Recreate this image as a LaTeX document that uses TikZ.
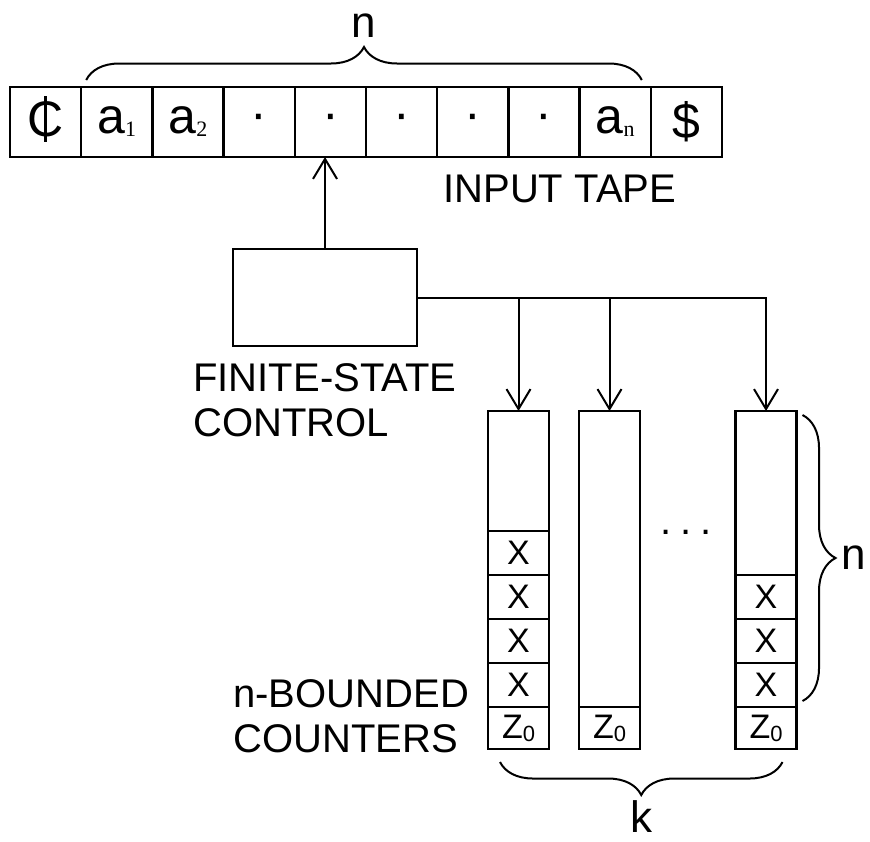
\documentclass[tikz,border=0pt]{standalone}
\usepackage{fontspec}
\setmainfont{Liberation Sans}
\newfontfamily\subfont{Liberation Serif}
\usetikzlibrary{positioning,arrows.meta,decorations.pathreplacing}

\newcommand{\subs}[1]{\raisebox{-1.5pt}{\subfont\fontsize{11}{11}\selectfont #1}}
\newcommand{\zeroidx}{\raisebox{-1.5pt}{\fontsize{11}{11}\selectfont 0}}
\newcommand{\centsign}{\ooalign{C\cr\hidewidth\rule[-0.1em]{0.05em}{0.92em}\hidewidth\cr}}

\begin{document}
\begin{tikzpicture}[x=0.5pt, y=-0.5pt,
  cell/.style={draw, line width=1.2pt, minimum width=35.6pt, minimum height=35pt,
               inner sep=0pt, outer sep=0pt, font=\fontsize{25}{25}\selectfont},
  ctr/.style={draw, line width=1.2pt, minimum width=30.5pt, minimum height=22pt,
              inner sep=0pt, outer sep=0pt, font=\fontsize{17}{17}\selectfont},
  zcell/.style={ctr, minimum height=21pt},
  box/.style={draw, line width=1.2pt, minimum width=92pt, minimum height=48.5pt,
              inner sep=0pt, outer sep=0pt},
  arr/.style={-{Straight Barb[length=10pt,width=12pt]}, line width=1pt},
  brace/.style={decorate, decoration={brace, amplitude=16.5pt}, line width=1pt},
  lbl/.style={font=\fontsize{20}{22.5}\selectfont, align=left, inner sep=0pt,
              anchor=north west},
  cnt/.style={font=\fontsize{22}{22}\selectfont, inner sep=0pt},
]
\useasboundingbox (0,0) rectangle (870,841);

% Input tape
\foreach \s [count=\i] in {\centsign, a\subs{1}, a\subs{2}, ·, ·, ·, ·, ·, a\subs{n}, \$}
  \node[cell] (t\i) at ({10+71.2*(\i-0.5)}, 122) {\s};
\node[lbl] (tapelbl) at (443,175) {INPUT TAPE};

% Finite-state control
\node[box] (fsc) at (325,297.5) {};
\node[lbl] (fsclbl) at (193,363) {FINITE-STATE\\CONTROL};
\draw[arr] (fsc.north) -- (fsc.north |- t5.south);

% Counters
\node[zcell] (z1) at (518.5,728) {Z\zeroidx};
\node[ctr, above=0pt of z1] (x11) {X};
\node[ctr, above=0pt of x11] (x12) {X};
\node[ctr, above=0pt of x12] (x13) {X};
\node[ctr, above=0pt of x13] (x14) {X};
\node[ctr, minimum height=60pt, above=0pt of x14] (e1) {};

\node[zcell] (z2) at (609.5,728) {Z\zeroidx};
\node[ctr, minimum height=148pt, above=0pt of z2] (e2) {};

\node[zcell] (z3) at (766,728) {Z\zeroidx};
\node[ctr, above=0pt of z3] (x31) {X};
\node[ctr, above=0pt of x31] (x32) {X};
\node[ctr, above=0pt of x32] (x33) {X};
\node[ctr, minimum height=82pt, above=0pt of x33] (e3) {};

\node[anchor=base, inner sep=0pt, font=\fontsize{20}{20}\selectfont] (dots)
  at (686,534) {.\hspace{4.5pt}.\hspace{4.5pt}.};
\node[lbl] (ctrlbl) at (233,679) {n-BOUNDED\\COUNTERS};

% Control lines to counters
\draw[arr] (fsc.east) -| (e3.north);
\draw[arr] (fsc.east -| e1.north) -- (e1.north);
\draw[arr] (fsc.east -| e2.north) -- (e2.north);

% Braces
\draw[brace] ([xshift=2.5pt,yshift=3.5pt]t2.north west) -- ([xshift=-4.5pt,yshift=3.5pt]t9.north east)
  node[cnt, midway, above=21pt] (ntop) {n};
\draw[brace] ([xshift=3pt,yshift=-2pt]e3.north east) -- ([xshift=3pt,yshift=3pt]z3.north east)
  node[cnt, midway, right=19pt] (nright) {n};
\draw[brace] ([xshift=-7pt,yshift=-6.5pt]z3.south east) -- ([xshift=6pt,yshift=-6.5pt]z1.south west)
  node[cnt, midway, below=19pt] (kbot) {k};

\end{tikzpicture}
\end{document}
